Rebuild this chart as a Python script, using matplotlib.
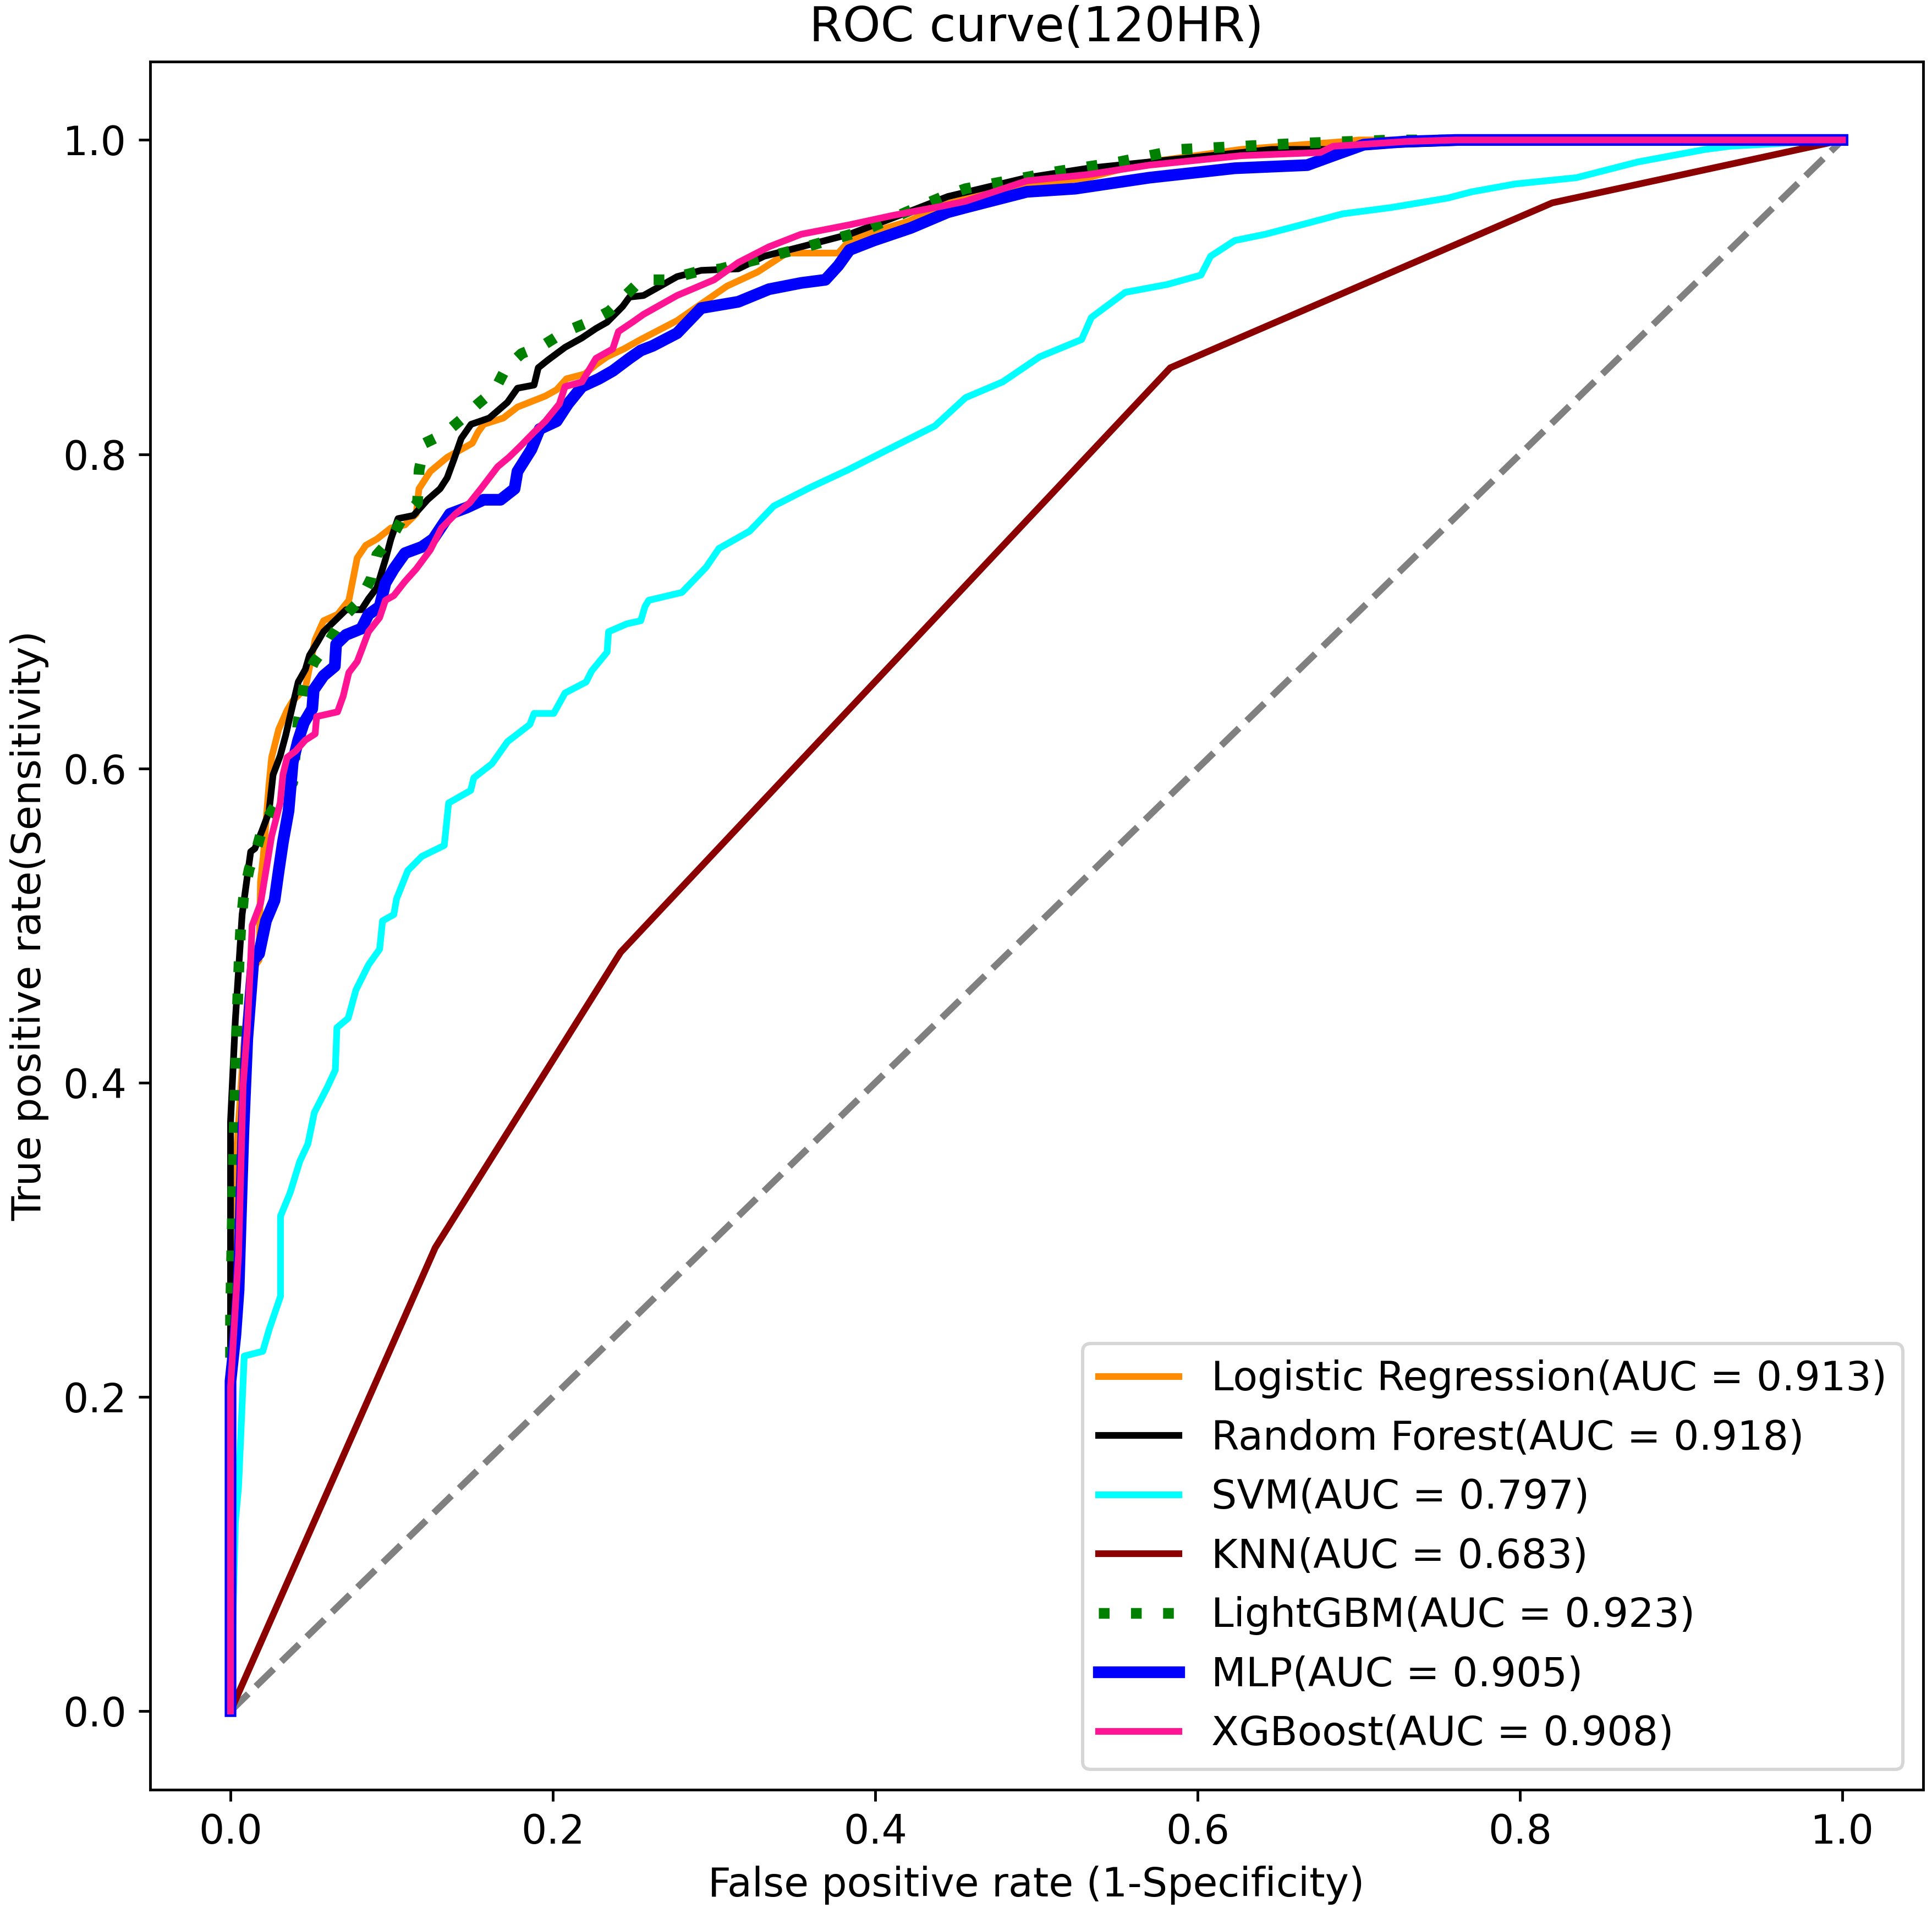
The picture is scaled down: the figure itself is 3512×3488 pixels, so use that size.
import numpy as np
import matplotlib
matplotlib.use("Agg")
import matplotlib.pyplot as plt

# ROC points (fpr, tpr)
lr_roc = [(0, 0), (0, 0.25), (0.004, 0.36), (0.008, 0.42), (0.012, 0.47), (0.0177, 0.478),
          (0.0186, 0.528), (0.0203, 0.544), (0.0238, 0.589), (0.0255, 0.607), (0.0299, 0.625),
          (0.0351, 0.637), (0.0386, 0.643), (0.0464, 0.651), (0.0525, 0.682), (0.0577, 0.694),
          (0.0664, 0.698), (0.0734, 0.707), (0.0786, 0.734), (0.0839, 0.742), (0.0908, 0.746),
          (0.0995, 0.753), (0.1082, 0.755), (0.1152, 0.762), (0.1169, 0.778), (0.1239, 0.789),
          (0.1344, 0.798), (0.1431, 0.803), (0.150, 0.807), (0.1535, 0.814), (0.157, 0.819),
          (0.1692, 0.823), (0.178, 0.83), (0.1953, 0.837), (0.2023, 0.841), (0.2084, 0.848),
          (0.2197, 0.851), (0.2267, 0.857), (0.2336, 0.862), (0.244, 0.867), (0.2545, 0.873),
          (0.277, 0.885), (0.308, 0.907), (0.327, 0.916), (0.345, 0.928), (0.377, 0.928),
          (0.384, 0.936), (0.40, 0.942), (0.42, 0.948), (0.456, 0.965), (0.494, 0.971),
          (0.532, 0.976), (0.570, 0.986), (0.627, 0.994), (0.665, 0.997), (0.691, 0.999),
          (0.70, 1.0), (1.0, 1.0)]

rf_roc = [(0, 0), (0, 0.375), (0.003, 0.44), (0.0072, 0.507), (0.0125, 0.547), (0.0151, 0.549),
          (0.0194, 0.56), (0.0238, 0.572), (0.0264, 0.596), (0.0308, 0.608), (0.0342, 0.621),
          (0.0369, 0.633), (0.042, 0.655), (0.0464, 0.663), (0.049, 0.672), (0.0543, 0.681),
          (0.0577, 0.687), (0.0647, 0.694), (0.0717, 0.701), (0.0812, 0.701), (0.0856, 0.708),
          (0.0908, 0.715), (0.0961, 0.733), (0.0995, 0.746), (0.1039, 0.759), (0.1135, 0.761),
          (0.1222, 0.771), (0.130, 0.778), (0.1344, 0.785), (0.1387, 0.797), (0.1431, 0.81),
          (0.1492, 0.819), (0.1605, 0.823), (0.1718, 0.833), (0.178, 0.842), (0.1883, 0.844),
          (0.1909, 0.855), (0.197, 0.86), (0.2075, 0.868), (0.218, 0.874), (0.2267, 0.88),
          (0.2336, 0.884), (0.2432, 0.894), (0.2475, 0.9), (0.2562, 0.901), (0.277, 0.913),
          (0.292, 0.917), (0.315, 0.918), (0.331, 0.926), (0.354, 0.932), (0.384, 0.94),
          (0.415, 0.952), (0.445, 0.964), (0.494, 0.976), (0.532, 0.982), (0.570, 0.986),
          (0.608, 0.99), (0.646, 0.994), (0.684, 0.994), (0.721, 0.997), (0.778, 0.999),
          (0.847, 1.0), (1.0, 1.0)]

svm_roc = [(0, 0), (0.003, 0.12), (0.005, 0.143), (0.0085, 0.226), (0.02, 0.229), (0.024, 0.243),
           (0.027, 0.252), (0.031, 0.264), (0.031, 0.315), (0.037, 0.33), (0.043, 0.35),
           (0.048, 0.361), (0.052, 0.381), (0.06, 0.397), (0.065, 0.408), (0.066, 0.435),
           (0.073, 0.441), (0.0778, 0.459), (0.0856, 0.475), (0.0925, 0.485), (0.0943, 0.503),
           (0.1013, 0.507), (0.103, 0.517), (0.11, 0.535), (0.1187, 0.544), (0.1326, 0.551),
           (0.1353, 0.578), (0.149, 0.586), (0.1509, 0.594), (0.1622, 0.603), (0.1718, 0.617),
           (0.1857, 0.628), (0.1883, 0.635), (0.2005, 0.635), (0.2075, 0.648), (0.2206, 0.655),
           (0.224, 0.662), (0.2336, 0.674), (0.2345, 0.687), (0.2458, 0.692), (0.2545, 0.694),
           (0.2571, 0.703), (0.2594, 0.707), (0.28, 0.712), (0.295, 0.728), (0.303, 0.74),
           (0.322, 0.751), (0.337, 0.767), (0.36, 0.779), (0.383, 0.79), (0.406, 0.802),
           (0.437, 0.818), (0.456, 0.836), (0.479, 0.846), (0.502, 0.862), (0.528, 0.873),
           (0.534, 0.887), (0.555, 0.903), (0.581, 0.908), (0.602, 0.914), (0.608, 0.926),
           (0.623, 0.936), (0.642, 0.94), (0.668, 0.947), (0.69, 0.953), (0.72, 0.957),
           (0.755, 0.963), (0.77, 0.967), (0.797, 0.972), (0.835, 0.976), (0.873, 0.986),
           (0.915, 0.994), (0.93, 0.996), (1.0, 1.0)]

knn_roc = [(0, 0), (0.127, 0.295), (0.242, 0.483), (0.583, 0.855), (0.82, 0.96), (1.0, 1.0)]

lgbm_roc = [(0, 0), (0, 0.25), (0.002, 0.36), (0.004, 0.44), (0.0055, 0.482), (0.0064, 0.5),
            (0.0082, 0.519), (0.0116, 0.536), (0.0168, 0.551), (0.0203, 0.564), (0.0281, 0.577),
            (0.0386, 0.591), (0.042, 0.63), (0.046, 0.655), (0.052, 0.668), (0.0594, 0.678),
            (0.0699, 0.696), (0.0804, 0.707), (0.0873, 0.721), (0.0908, 0.736), (0.0995, 0.746),
            (0.1065, 0.759), (0.116, 0.769), (0.117, 0.790), (0.1205, 0.807), (0.1326, 0.813),
            (0.143, 0.822), (0.1535, 0.832), (0.164, 0.841), (0.171, 0.855), (0.1805, 0.864),
            (0.195, 0.87), (0.2075, 0.878), (0.222, 0.884), (0.235, 0.891), (0.244, 0.9),
            (0.255, 0.911), (0.27, 0.911), (0.289, 0.916), (0.304, 0.918), (0.327, 0.924),
            (0.35, 0.93), (0.392, 0.942), (0.419, 0.954), (0.442, 0.964), (0.456, 0.969),
            (0.513, 0.98), (0.551, 0.986), (0.589, 0.994), (0.627, 0.996), (0.665, 0.998),
            (0.721, 1.0), (1.0, 1.0)]

mlp_roc = [(0, 0), (0, 0.21), (0.003, 0.239), (0.005, 0.268), (0.008, 0.369), (0.0104, 0.428),
           (0.0142, 0.478), (0.0177, 0.482), (0.022, 0.503), (0.0273, 0.516), (0.0299, 0.535),
           (0.0325, 0.553), (0.036, 0.573), (0.0386, 0.604), (0.042, 0.618), (0.0455, 0.629),
           (0.0507, 0.638), (0.0516, 0.65), (0.0577, 0.659), (0.0647, 0.665), (0.0655, 0.679),
           (0.0716, 0.685), (0.0812, 0.689), (0.0856, 0.698), (0.0925, 0.703), (0.0961, 0.718),
           (0.1013, 0.727), (0.1082, 0.737), (0.1187, 0.741), (0.1257, 0.746), (0.1361, 0.762),
           (0.1465, 0.766), (0.157, 0.771), (0.1675, 0.771), (0.1762, 0.778), (0.178, 0.789),
           (0.1866, 0.803), (0.1918, 0.816), (0.2023, 0.821), (0.2093, 0.832), (0.218, 0.843),
           (0.2285, 0.848), (0.2371, 0.853), (0.2475, 0.861), (0.2545, 0.866), (0.262, 0.869),
           (0.277, 0.877), (0.292, 0.893), (0.315, 0.897), (0.334, 0.905), (0.354, 0.909),
           (0.369, 0.911), (0.377, 0.92), (0.384, 0.93), (0.399, 0.936), (0.422, 0.944),
           (0.445, 0.954), (0.456, 0.957), (0.494, 0.967), (0.524, 0.969), (0.57, 0.976),
           (0.623, 0.982), (0.668, 0.984), (0.684, 0.99), (0.703, 0.997), (0.729, 0.999),
           (0.76, 1.0), (1.0, 1.0)]

xgb_roc = [(0, 0), (0, 0.206), (0.005, 0.291), (0.0078, 0.398), (0.0104, 0.434), (0.0125, 0.478),
           (0.0134, 0.5), (0.0186, 0.514), (0.022, 0.535), (0.0255, 0.557), (0.0308, 0.578),
           (0.0325, 0.596), (0.0351, 0.607), (0.0403, 0.611), (0.0464, 0.618), (0.0525, 0.622),
           (0.0534, 0.633), (0.0664, 0.636), (0.0699, 0.646), (0.0734, 0.661), (0.0786, 0.668),
           (0.0812, 0.675), (0.0856, 0.687), (0.0925, 0.696), (0.0961, 0.707), (0.1013, 0.71),
           (0.1082, 0.719), (0.1152, 0.727), (0.1239, 0.739), (0.1309, 0.753), (0.1396, 0.762),
           (0.1483, 0.769), (0.1553, 0.778), (0.1657, 0.792), (0.1727, 0.798), (0.1797, 0.805),
           (0.1883, 0.814), (0.1953, 0.821), (0.204, 0.832), (0.2075, 0.843), (0.218, 0.846),
           (0.2267, 0.861), (0.2371, 0.867), (0.2406, 0.878), (0.2493, 0.884), (0.2562, 0.889),
           (0.277, 0.901), (0.30, 0.911), (0.315, 0.922), (0.334, 0.932), (0.354, 0.94),
           (0.384, 0.946), (0.411, 0.952), (0.442, 0.958), (0.456, 0.961), (0.494, 0.974),
           (0.532, 0.978), (0.57, 0.984), (0.627, 0.99), (0.676, 0.992), (0.684, 0.996),
           (0.729, 0.999), (0.76, 1.0), (1.0, 1.0)]

model_names = ["Logistic Regression", "Random Forest", "SVM", "KNN", "LightGBM", "MLP", "XGBoost"]
auc_values = [0.913, 0.918, 0.797, 0.683, 0.923, 0.905, 0.908]
roc_points = [lr_roc, rf_roc, svm_roc, knn_roc, lgbm_roc, mlp_roc, xgb_roc]

# style per model
colors = ["darkorange", "black", "aqua", "darkred", "green", "blue", "deeppink"]
widths = [2, 2, 2, 2, 3.2, 3.5, 2]
styles = ["-", "-", "-", "-", (0, (1, 2)), "-", "-"]

plt.rcParams["font.family"] = "DejaVu Sans"
plt.rcParams["font.size"] = 12

fig = plt.figure(figsize=(3512 / 438, 3488 / 438), dpi=438)
ax = fig.add_axes([0.0776, 0.0674, 0.9178, 0.9006])

ax.plot([0, 1], [0, 1], color="gray", lw=2, linestyle="--")

for name, auc, pts, c, w, ls in zip(model_names, auc_values, roc_points, colors, widths, styles):
    fpr = np.array([p[0] for p in pts])
    tpr = np.array([p[1] for p in pts])
    ax.plot(fpr, tpr, color=c, lw=w, linestyle=ls,
            label="{}(AUC = {:.3f})".format(name, auc))

ax.set_xlim(-0.05, 1.05)
ax.set_ylim(-0.05, 1.05)
ax.set_xlabel("False positive rate (1-Specificity)")
ax.set_ylabel("True positive rate(Sensitivity)")
ax.set_title("ROC curve(120HR)")
ax.legend(loc="lower right")

fig.savefig("out.png", dpi=438)
